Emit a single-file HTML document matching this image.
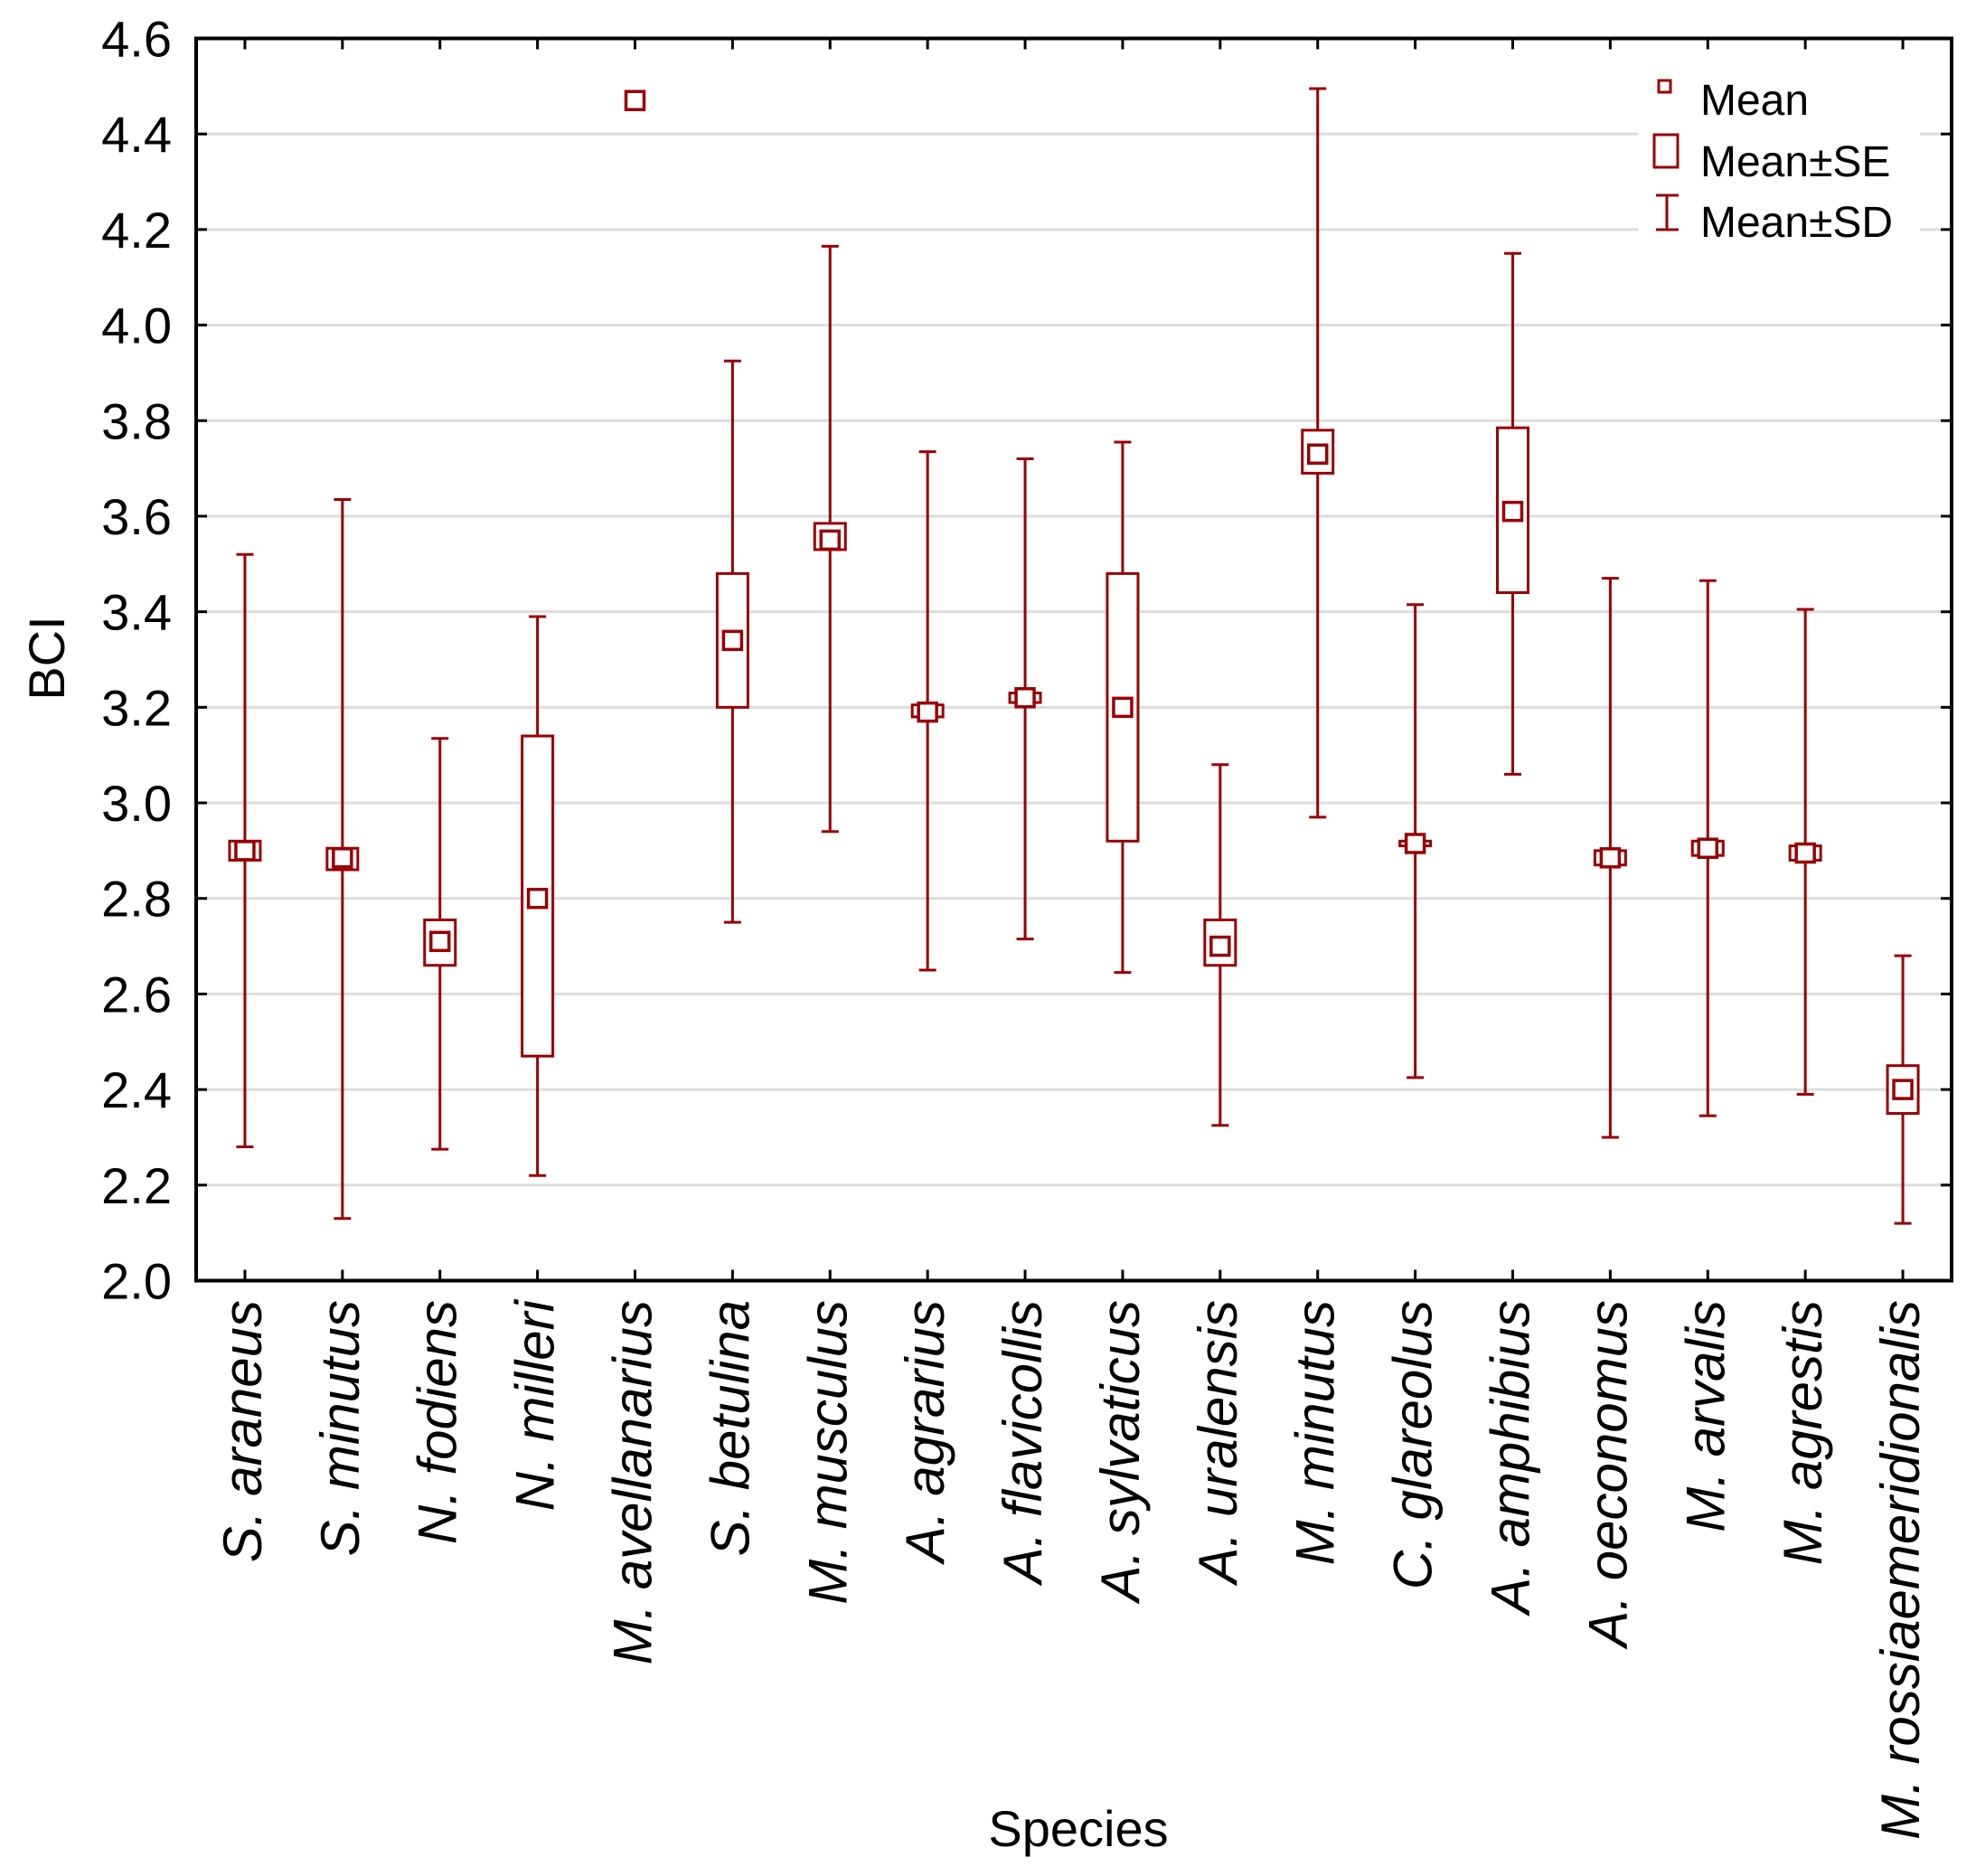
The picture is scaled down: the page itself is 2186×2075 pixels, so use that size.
<!DOCTYPE html>
<html><head><meta charset="utf-8"><style>
html,body{margin:0;padding:0;background:#fff;}
svg{display:block;font-family:"Liberation Sans",Arial,sans-serif;}
</style></head><body>
<svg id="chart" width="2186" height="2075" viewBox="0 0 2186 2075" xmlns="http://www.w3.org/2000/svg">
<rect x="0" y="0" width="2186" height="2075" fill="#fff"/>
<g id="grid"></g>
<g id="marks"></g>
<g id="axes"></g>
<g id="legend">
  <rect x="1812" y="75" width="312" height="205" fill="#fff"/>
  <rect x="1835" y="89" width="13" height="13" fill="none" stroke="#990000" stroke-width="3"/>
  <text x="1881" y="127" font-size="48" fill="#000">Mean</text>
  <rect x="1830" y="149" width="26" height="36" fill="none" stroke="#990000" stroke-width="3"/>
  <text x="1881" y="195" font-size="48" fill="#000">Mean±SE</text>
  <line x1="1844" y1="216" x2="1844" y2="254" stroke="#990000" stroke-width="3"/>
  <line x1="1832" y1="216" x2="1857" y2="216" stroke="#990000" stroke-width="3"/>
  <line x1="1832" y1="254" x2="1857" y2="254" stroke="#990000" stroke-width="3"/>
  <text x="1881" y="262" font-size="48" fill="#000">Mean±SD</text>
</g>
<text x="1193" y="2042" font-size="56" text-anchor="middle" fill="#000">Species</text>
<text transform="translate(71,728) rotate(-90)" font-size="56" text-anchor="middle" fill="#000">BCI</text>
</svg>
<script>
const species = ["S. araneus","S. minutus","N. fodiens","N. milleri","M. avellanarius","S. betulina","M. musculus","A. agrarius","A. flavicollis","A. sylvaticus","A. uralensis","M. minutus","C. glareolus","A. amphibius","A. oeconomus","M. arvalis","M. agrestis","M. rossiaemeridionalis"];
const means = [2.90,2.885,2.71,2.80,4.47,3.34,3.55,3.19,3.22,3.20,2.70,3.73,2.915,3.61,2.885,2.905,2.895,2.40];
const seLow = [2.88,2.86,2.66,2.47,null,3.20,3.53,3.18,3.21,2.92,2.66,3.69,2.91,3.44,2.87,2.89,2.88,2.35];
const seHigh = [2.92,2.905,2.755,3.14,null,3.48,3.585,3.205,3.23,3.48,2.755,3.78,2.92,3.785,2.90,2.92,2.91,2.45];
const sdLow = [2.28,2.13,2.275,2.22,null,2.75,2.94,2.65,2.715,2.645,2.325,2.97,2.425,3.06,2.30,2.345,2.39,2.12];
const sdHigh = [3.52,3.635,3.135,3.39,null,3.925,4.165,3.735,3.72,3.755,3.08,4.495,3.415,4.15,3.47,3.465,3.405,2.68];
const yTicks = [2.0,2.2,2.4,2.6,2.8,3.0,3.2,3.4,3.6,3.8,4.0,4.2,4.4,4.6];

const NS="http://www.w3.org/2000/svg";
const L=217,R=2159,T=42.5,B=1416.5,Y0=2.0,Y1=4.6;
const C="#990000";
const y=v=>B-(v-Y0)/(Y1-Y0)*(B-T);
const bw=(R-L)/species.length;
const x=i=>L+bw*(i+0.5);
function mk(tag,attrs,parent){const e=document.createElementNS(NS,tag);for(const k in attrs)e.setAttribute(k,attrs[k]);parent.appendChild(e);return e;}
const grid=document.getElementById('grid'),marks=document.getElementById('marks'),axes=document.getElementById('axes');

yTicks.forEach((t,i)=>{
  const yy=y(t);
  if(i>0&&i<yTicks.length-1){
    const g=mk('line',{x1:L,x2:R,y1:yy,y2:yy,stroke:'#dcdcdc','stroke-width':3},grid);
    
    
  }
  mk('line',{x1:L,x2:L+12,y1:yy,y2:yy,stroke:'#000','stroke-width':3},axes);
  mk('line',{x1:R-12,x2:R,y1:yy,y2:yy,stroke:'#000','stroke-width':3},axes);
  const tx=mk('text',{x:190,y:yy+20,'font-size':56,'text-anchor':'end',fill:'#000'},axes);
  tx.textContent=t.toFixed(1);
  
  
});

species.forEach((s,i)=>{
  const cx=x(i);
  mk('line',{x1:cx,x2:cx,y1:T,y2:T+12,stroke:'#000','stroke-width':3},axes);
  mk('line',{x1:cx,x2:cx,y1:B-12,y2:B,stroke:'#000','stroke-width':3},axes);
  const lb=mk('text',{transform:`translate(${cx+18},1438) rotate(-90)`,'font-size':60,'font-style':'italic','text-anchor':'end',fill:'#000'},axes);
  lb.textContent=s;
  
  
  const g=mk('g',{},marks);
  
  
  if(sdLow[i]!=null){
    const w=mk('line',{x1:cx,x2:cx,y1:y(sdLow[i]),y2:y(sdHigh[i]),stroke:C,'stroke-width':3},g);
    
    
    mk('line',{x1:cx-9.5,x2:cx+9.5,y1:y(sdLow[i]),y2:y(sdLow[i]),stroke:C,'stroke-width':3},g);
    mk('line',{x1:cx-9.5,x2:cx+9.5,y1:y(sdHigh[i]),y2:y(sdHigh[i]),stroke:C,'stroke-width':3},g);
  }
  if(seLow[i]!=null){
    const b=mk('rect',{x:cx-17,y:y(seHigh[i]),width:34,height:y(seLow[i])-y(seHigh[i]),fill:'#fff',stroke:C,'stroke-width':3},g);
    
    
  }
  const m=mk('rect',{x:cx-10,y:y(means[i])-10,width:20,height:20,fill:'#fff',stroke:C,'stroke-width':3.5},g);
  
  
});

const frame=mk('rect',{x:L,y:T,width:R-L,height:B-T,fill:'none',stroke:'#000','stroke-width':4},axes);


</script>
</body></html>
